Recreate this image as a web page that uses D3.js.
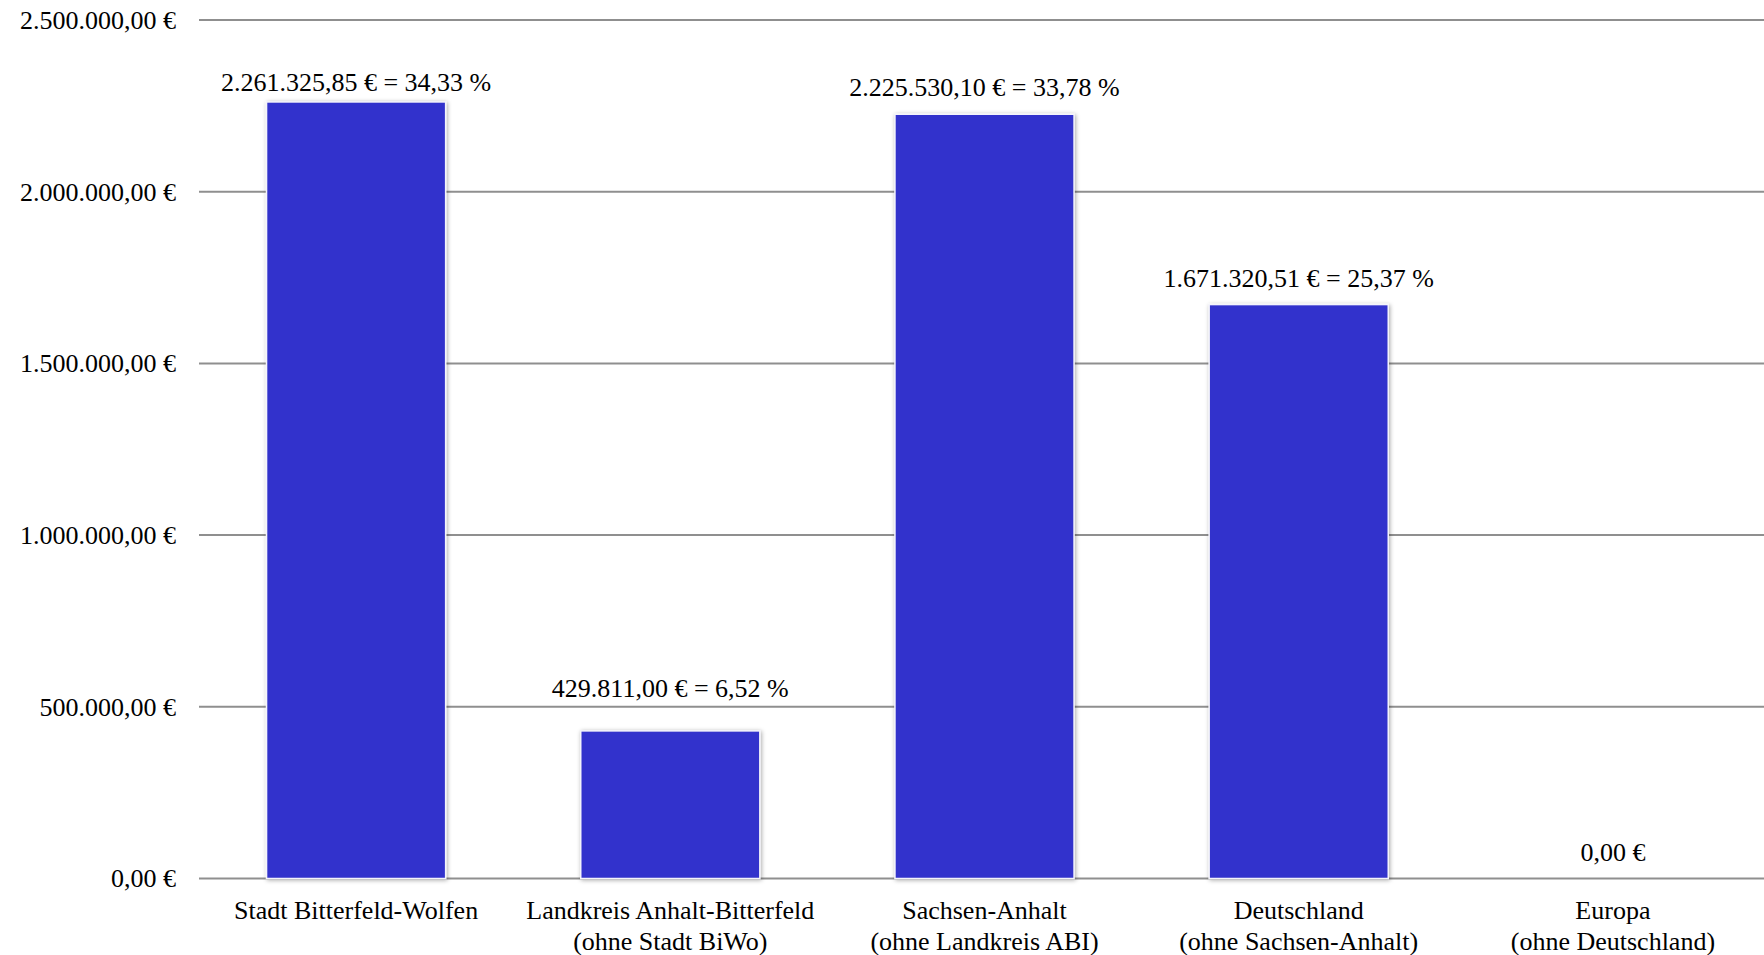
<!DOCTYPE html>
<html>
<head>
<meta charset="utf-8">
<script src="https://cdn.jsdelivr.net/npm/d3@7"></script>
<style>
  html, body { margin: 0; padding: 0; background: #fff; }
  svg { display: block; }
  svg text { font-family: "Liberation Serif", Tinos, "Times New Roman", Times, "DejaVu Serif", serif !important; fill: #000; }
</style>
</head>
<body>
<svg id="chart" width="1764" height="955"></svg>
<script>
// ---- data ----
const categories = [
  "Stadt Bitterfeld-Wolfen",
  "Landkreis Anhalt-Bitterfeld\n(ohne Stadt BiWo)",
  "Sachsen-Anhalt\n(ohne Landkreis ABI)",
  "Deutschland\n(ohne Sachsen-Anhalt)",
  "Europa\n(ohne Deutschland)"
];
const amounts = [2261325.85, 429811.00, 2225530.10, 1671320.51, 0];
const shares = [34.33, 6.52, 33.78, 25.37, 0];
const yTicks = [0, 500000, 1000000, 1500000, 2000000, 2500000];

// ---- layout ----
const W = 1764, H = 955;
const margin = { left: 199, right: -6, top: 20, bottom: 76 };
const svg = d3.select("#chart");
const FONT = '"Liberation Serif", Tinos, "Times New Roman", Times, "DejaVu Serif", serif';

const de = d3.formatLocale({ decimal: ",", thousands: ".", grouping: [3], currency: ["", " €"] });
const fmtMoney = v => de.format(",.2f")(v) + " €";
const fmtPct = v => de.format(".2f")(v) + " %";

const x = d3.scaleBand()
  .domain(categories)
  .range([margin.left, W - margin.right])
  .paddingInner(0.43)
  .paddingOuter(0.215);

const y = d3.scaleLinear()
  .domain([0, 2500000])
  .range([H - margin.bottom - 0.5, margin.top]);

// shadow filter
const defs = svg.append("defs");
const f = defs.append("filter").attr("id", "shadow")
  .attr("x", "-10%").attr("y", "-10%").attr("width", "120%").attr("height", "120%");
f.append("feDropShadow").attr("dx", 1).attr("dy", 1).attr("stdDeviation", 2)
  .attr("flood-color", "#000").attr("flood-opacity", 0.35);

// gridlines
svg.append("g").selectAll("line").data(yTicks).join("line")
  .attr("x1", margin.left).attr("x2", W)
  .attr("y1", d => y(d)).attr("y2", d => y(d))
  .attr("stroke", "#8f8f8f").attr("stroke-width", 2);

// y axis labels
const yAxis = d3.axisLeft(y).tickValues(yTicks).tickFormat(fmtMoney).tickSize(0).tickPadding(23);
const gy = svg.append("g").attr("transform", `translate(${margin.left},0)`).call(yAxis)
  .attr("font-family", FONT);
gy.select(".domain").remove();
gy.selectAll("text").attr("font-size", 26).attr("fill", "#000");

// bars
svg.append("g").selectAll("rect").data(categories).join("rect")
  .attr("x", d => x(d))
  .attr("width", x.bandwidth())
  .attr("y", (d, i) => y(amounts[i]))
  .attr("height", (d, i) => y(0) - y(amounts[i]))
  .attr("fill", "#3333cc")
  .attr("stroke", "#f4f4fb").attr("stroke-width", 1.5)
  .attr("filter", "url(#shadow)")
  .style("display", (d, i) => amounts[i] > 0 ? null : "none");

// value labels (moved above a gridline if they would collide with one)
function labelBaseline(v) {
  let b = y(v) - 18;
  for (const t of yTicks) {
    const g = y(t);
    if (t > 0 && g > b - 20 && g < b + 6) b = g - 10;
  }
  return Math.max(b, margin.top + 71);
}
svg.append("g").attr("font-family", FONT).selectAll("text").data(categories).join("text")
  .attr("x", d => x(d) + x.bandwidth() / 2)
  .attr("y", (d, i) => labelBaseline(amounts[i]))
  .attr("text-anchor", "middle")
  .attr("font-size", 26)
  .text((d, i) => shares[i] > 0 ? `${fmtMoney(amounts[i])} = ${fmtPct(shares[i])}` : fmtMoney(amounts[i]));

// category labels
const xAxis = d3.axisBottom(x).tickSize(0).tickFormat("");
const gx = svg.append("g").attr("transform", `translate(0,${y(0)})`).call(xAxis)
  .attr("font-family", FONT);
gx.select(".domain").remove();
gx.selectAll(".tick").each(function(d) {
  const t = d3.select(this).append("text")
    .attr("text-anchor", "middle").attr("font-size", 26).attr("fill", "#000");
  d.split("\n").forEach((line, k) => {
    t.append("tspan").attr("x", 0).attr("y", 40 + k * 31).text(line);
  });
});
</script>
</body>
</html>
